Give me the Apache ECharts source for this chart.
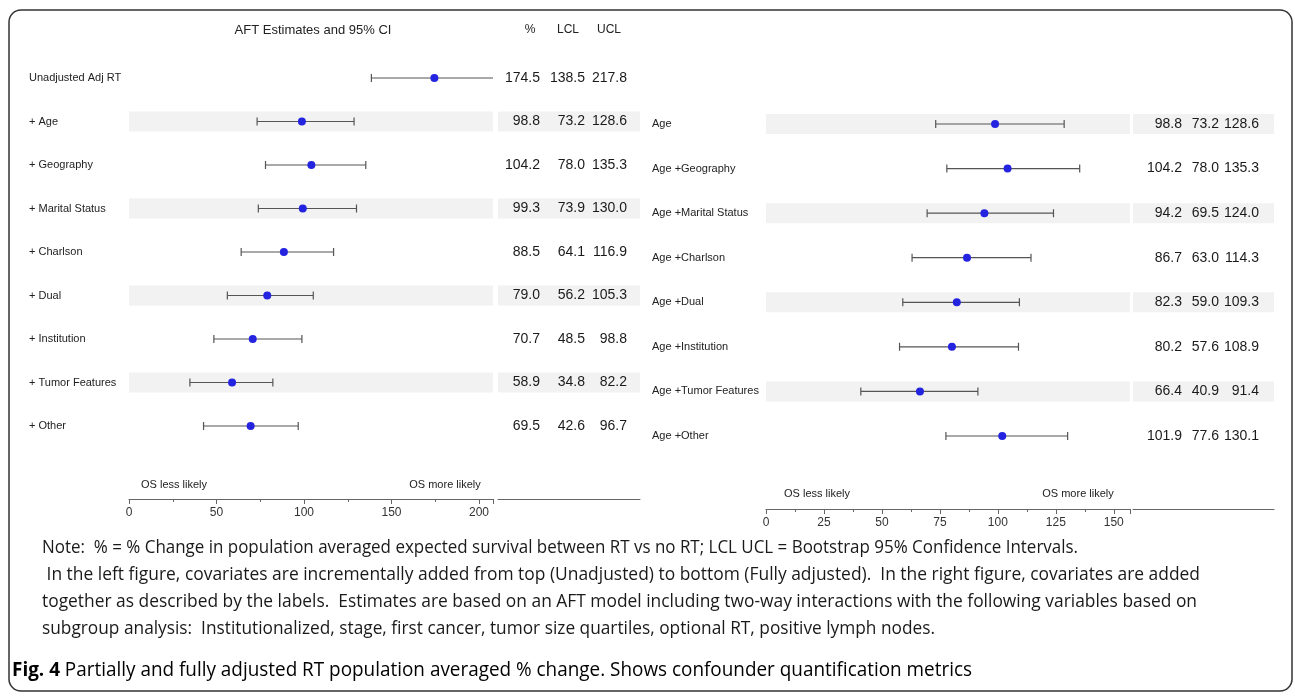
<!DOCTYPE html>
<html>
<head>
<meta charset="utf-8">
<script src="https://cdn.jsdelivr.net/npm/echarts/dist/echarts.min.js"></script>
<style>
html, body { margin: 0; padding: 0; background: #fff; }
#main { width: 1295px; height: 697px; }
</style>
</head>
<body>
<div id="main"></div>
<script>
// left panel: covariates added one after another
var leftLabels = ['Unadjusted Adj RT', '+ Age', '+ Geography', '+ Marital Status', '+ Charlson', '+ Dual', '+ Institution', '+ Tumor Features', '+ Other'];
var leftEst = [174.5, 98.8, 104.2, 99.3, 88.5, 79.0, 70.7, 58.9, 69.5];
var leftLcl = [138.5, 73.2, 78.0, 73.9, 64.1, 56.2, 48.5, 34.8, 42.6];
var leftUcl = [217.8, 128.6, 135.3, 130.0, 116.9, 105.3, 98.8, 82.2, 96.7];
var leftShade = [0, 1, 0, 1, 0, 1, 0, 1, 0];

// right panel: age + one covariate
var rightLabels = ['Age', 'Age +Geography', 'Age +Marital Status', 'Age +Charlson', 'Age +Dual', 'Age +Institution', 'Age +Tumor Features', 'Age +Other'];
var rightEst = [98.8, 104.2, 94.2, 86.7, 82.3, 80.2, 66.4, 101.9];
var rightLcl = [73.2, 78.0, 69.5, 63.0, 59.0, 57.6, 40.9, 77.6];
var rightUcl = [128.6, 135.3, 124.0, 114.3, 109.3, 108.9, 91.4, 130.1];
var rightShade = [1, 0, 1, 0, 1, 0, 1, 0];

var leftTicks = { min: 0, max: 208, interval: 50 };
var rightTicks = { min: 0, max: 157, interval: 25 };

var notes = [
    'Note:  % = % Change in population averaged expected survival between RT vs no RT; LCL UCL = Bootstrap 95% Confidence Intervals.',
    ' In the left figure, covariates are incrementally added from top (Unadjusted) to bottom (Fully adjusted).  In the right figure, covariates are added',
    'together as described by the labels.  Estimates are based on an AFT model including two-way interactions with the following variables based on',
    'subgroup analysis:  Institutionalized, stage, first cancer, tumor size quartiles, optional RT, positive lymph nodes.'
];
var captionBold = 'Fig. 4';
var captionText = ' Partially and fully adjusted RT population averaged % change. Shows confounder quantification metrics';

var FONT = '"Liberation Sans", Arial, sans-serif';

// panel layout
var L = { plotX: 129, plotW: 364, tabX: 498, tabW: 142, row0: 78, rowH: 43.5, axisY: 499, labelX: 29, tabOffs: [42, 87, 129] };
var R = { plotX: 766, plotW: 364, tabX: 1133, tabW: 141, row0: 124, rowH: 44.57, axisY: 509, labelX: 652, tabOffs: [49, 86, 126] };
[L, R].forEach(function (p) {
    p.top = p.row0 - p.rowH;
    p.height = p.axisY - p.top;
    p.ymax = -1 + p.height / p.rowH;
});

var myChart = echarts.init(document.getElementById('main'));

function renderBand(params, api) {
    var cs = params.coordSys;
    var y = api.coord([api.value(0), api.value(1)])[1];
    return {
        type: 'rect',
        shape: { x: cs.x, y: y - 10, width: cs.width, height: 20 },
        style: { fill: '#f2f2f2' },
        silent: true
    };
}

function renderCI(params, api) {
    var row = api.value(2);
    var a = api.coord([api.value(0), row]);
    var b = api.coord([api.value(1), row]);
    var cap = 4;
    var st = { stroke: '#555', lineWidth: 1.2 };
    return {
        type: 'group',
        children: [
            { type: 'line', shape: { x1: a[0], y1: a[1], x2: b[0], y2: b[1] }, style: st },
            { type: 'line', shape: { x1: a[0], y1: a[1] - cap, x2: a[0], y2: a[1] + cap }, style: st },
            { type: 'line', shape: { x1: b[0], y1: b[1] - cap, x2: b[0], y2: b[1] + cap }, style: st }
        ]
    };
}

function makeTable(offs) {
    return function (params, api) {
        var y = api.coord([0, api.value(1)])[1];
        var x0 = params.coordSys.x;
        var kids = [];
        for (var k = 0; k < 3; k++) {
            kids.push({
                type: 'text',
                x: x0 + offs[k],
                y: y,
                style: {
                    text: api.value(2 + k).toFixed(1),
                    align: 'right', textAlign: 'right',
                    verticalAlign: 'middle', textVerticalAlign: 'middle',
                    font: '14px ' + FONT,
                    fill: '#1a1a1a'
                }
            });
        }
        return { type: 'group', children: kids };
    };
}

function bandData(shade) {
    var d = [];
    shade.forEach(function (s, i) { if (s) d.push([0, i]); });
    return d;
}

function ciData(lcl, ucl) {
    return lcl.map(function (v, i) { return [v, ucl[i], i]; });
}

function pointData(est) {
    return est.map(function (v, i) { return [v, i]; });
}

function tableData(est, lcl, ucl) {
    return est.map(function (v, i) { return [0, i, v, lcl[i], ucl[i]]; });
}

function plotXAxis(grid, t) {
    return {
        type: 'value', gridIndex: grid, min: t.min, max: t.max, interval: t.interval,
        axisLine: { onZero: false, lineStyle: { color: '#666', width: 1 } },
        axisTick: { show: true, length: 5, lineStyle: { color: '#666' } },
        minorTick: { show: true, splitNumber: 2, length: 3, lineStyle: { color: '#666' } },
        splitLine: { show: false },
        axisLabel: {
            margin: 8, color: '#333', fontSize: 12, fontFamily: FONT,
            formatter: function (v) { return v % t.interval === 0 ? String(v) : ''; }
        }
    };
}

function tableXAxis(grid) {
    return {
        type: 'value', gridIndex: grid, min: 0, max: 1,
        axisLine: { onZero: false, lineStyle: { color: '#666', width: 1 } },
        axisTick: { show: false }, axisLabel: { show: false }, splitLine: { show: false }
    };
}

function rowYAxis(grid, p, labels) {
    return {
        type: 'value', gridIndex: grid, inverse: true, min: -1, max: p.ymax, interval: 1,
        axisLine: { show: false }, axisTick: { show: false }, splitLine: { show: false },
        axisLabel: {
            show: !!labels,
            align: 'left',
            margin: p.plotX - p.labelX,
            color: '#222', fontSize: 11, fontFamily: FONT,
            formatter: function (v) {
                return labels && Number.isInteger(v) && v >= 0 && v < labels.length ? labels[v] : '';
            }
        }
    };
}

// notes: each line squeezed to the width it takes in the figure
var ctx = document.createElement('canvas').getContext('2d');
var noteFont = '19px "Open Sans", sans-serif';
var noteStart = [42, 42, 42, 42];
var noteEnd = [1078, 1200, 1197, 935];

ctx.font = 'bold 20px "Open Sans", sans-serif';
var wBold = ctx.measureText(captionBold).width;
ctx.font = '20px "Open Sans", sans-serif';
var wText = ctx.measureText(captionText).width;
var capScale = 960 / (wBold + wText);

function label(x, y, text, size) {
    return {
        type: 'text', x: x, y: y,
        style: { text: text, font: size + 'px ' + FONT, fill: '#222', align: 'center', textAlign: 'center', verticalAlign: 'middle', textVerticalAlign: 'middle' }
    };
}

var graphics = [
    { type: 'rect', shape: { x: 9, y: 10, width: 1283, height: 681, r: 12 }, style: { fill: 'none', stroke: '#333', lineWidth: 1.5 } },
    label(313, 30, 'AFT Estimates and 95% CI', 13),
    label(530, 30, '%', 12),
    label(568, 30, 'LCL', 12),
    label(609, 30, 'UCL', 12),
    label(174, 485, 'OS less likely', 11),
    label(445, 485, 'OS more likely', 11),
    label(817, 494, 'OS less likely', 11),
    label(1078, 494, 'OS more likely', 11)
];
ctx.font = noteFont;
notes.forEach(function (t, i) {
    var s = (noteEnd[i] - noteStart[i]) / ctx.measureText(t).width;
    graphics.push({
        type: 'text', x: noteStart[i], y: 548 + i * 27, scaleX: s,
        style: { text: t, font: noteFont, fill: '#1a1a1a', align: 'left', textAlign: 'left', verticalAlign: 'middle', textVerticalAlign: 'middle' }
    });
});
graphics.push({
    type: 'text', x: 12, y: 670, scaleX: capScale,
    style: {
        text: '{b|' + captionBold + '}{n|' + captionText + '}',
        align: 'left', textAlign: 'left', verticalAlign: 'middle', textVerticalAlign: 'middle',
        rich: {
            b: { fontFamily: '"Open Sans", sans-serif', fontWeight: 'bold', fontSize: 20, color: '#222' },
            n: { fontFamily: '"Open Sans", sans-serif', fontSize: 20, color: '#444' }
        }
    }
});

var option = {
    animation: false,
    grid: [
        { left: L.plotX, top: L.top, width: L.plotW, height: L.height },
        { left: L.tabX, top: L.top, width: L.tabW, height: L.height },
        { left: R.plotX, top: R.top, width: R.plotW, height: R.height },
        { left: R.tabX, top: R.top, width: R.tabW, height: R.height }
    ],
    xAxis: [plotXAxis(0, leftTicks), tableXAxis(1), plotXAxis(2, rightTicks), tableXAxis(3)],
    yAxis: [rowYAxis(0, L, leftLabels), rowYAxis(1, L, null), rowYAxis(2, R, rightLabels), rowYAxis(3, R, null)],
    graphic: graphics,
    series: [
        { type: 'custom', xAxisIndex: 0, yAxisIndex: 0, renderItem: renderBand, data: bandData(leftShade), encode: { x: 0, y: 1 }, z: 1 },
        { type: 'custom', xAxisIndex: 1, yAxisIndex: 1, renderItem: renderBand, data: bandData(leftShade), encode: { x: 0, y: 1 }, z: 1 },
        { type: 'custom', xAxisIndex: 2, yAxisIndex: 2, renderItem: renderBand, data: bandData(rightShade), encode: { x: 0, y: 1 }, z: 1 },
        { type: 'custom', xAxisIndex: 3, yAxisIndex: 3, renderItem: renderBand, data: bandData(rightShade), encode: { x: 0, y: 1 }, z: 1 },
        { type: 'custom', xAxisIndex: 0, yAxisIndex: 0, renderItem: renderCI, data: ciData(leftLcl, leftUcl), encode: { x: [0, 1], y: 2 }, clip: true, z: 2 },
        { type: 'custom', xAxisIndex: 2, yAxisIndex: 2, renderItem: renderCI, data: ciData(rightLcl, rightUcl), encode: { x: [0, 1], y: 2 }, clip: true, z: 2 },
        { type: 'scatter', xAxisIndex: 0, yAxisIndex: 0, data: pointData(leftEst), symbolSize: 8, itemStyle: { color: '#2424e0', opacity: 1 }, z: 3 },
        { type: 'scatter', xAxisIndex: 2, yAxisIndex: 2, data: pointData(rightEst), symbolSize: 8, itemStyle: { color: '#2424e0', opacity: 1 }, z: 3 },
        { type: 'custom', xAxisIndex: 1, yAxisIndex: 1, renderItem: makeTable(L.tabOffs), data: tableData(leftEst, leftLcl, leftUcl), encode: { x: 0, y: 1 }, z: 3 },
        { type: 'custom', xAxisIndex: 3, yAxisIndex: 3, renderItem: makeTable(R.tabOffs), data: tableData(rightEst, rightLcl, rightUcl), encode: { x: 0, y: 1 }, z: 3 }
    ]
};
myChart.setOption(option);
</script>
</body>
</html>
